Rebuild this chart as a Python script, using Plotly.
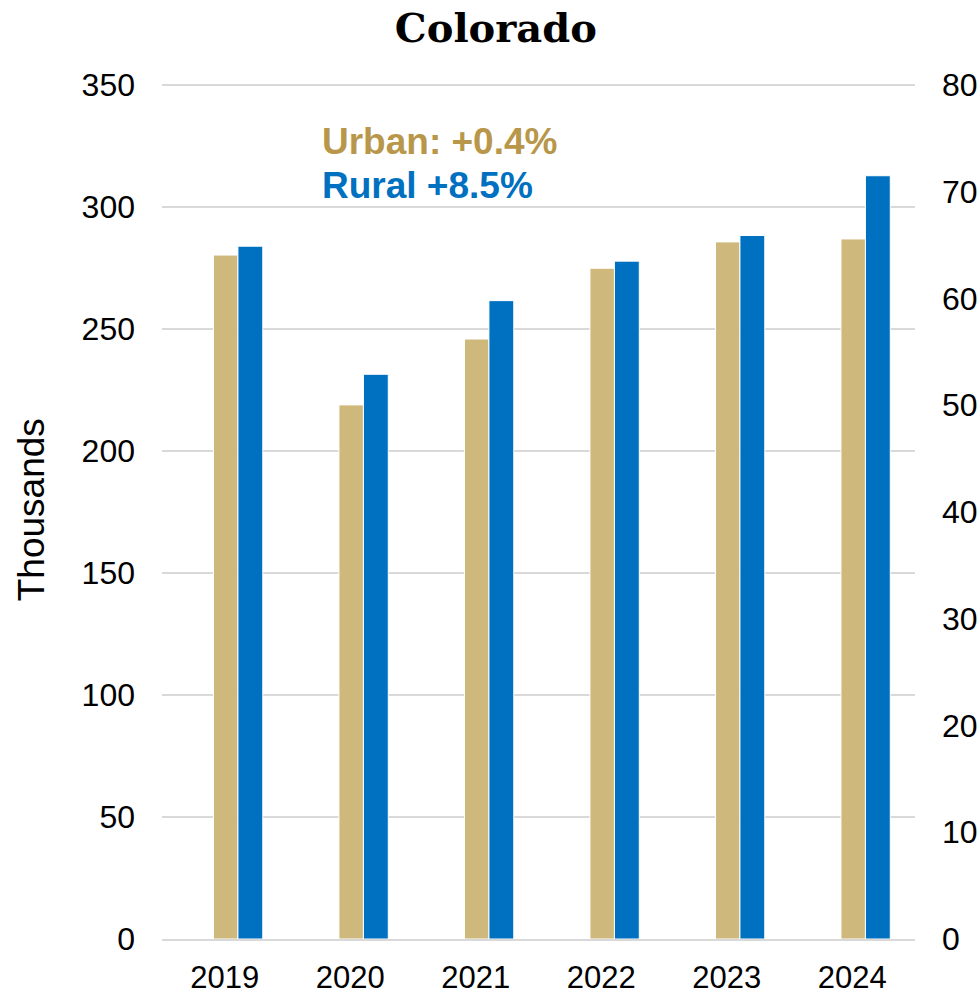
import plotly.graph_objects as go

years = ["2019", "2020", "2021", "2022", "2023", "2024"]
urban = [280.3, 218.9, 245.9, 274.9, 285.7, 286.9]   # thousands, left axis
rural = [64.9, 52.9, 59.8, 63.5, 65.9, 71.5]          # thousands, right axis
left_ticks = [0, 50, 100, 150, 200, 250, 300, 350]
right_ticks = [0, 10, 20, 30, 40, 50, 60, 70, 80]
title_text = "Colorado"
urban_note = "Urban: +0.4%"
rural_note = "Rural +8.5%"

GOLD = "#CFB87C"
GOLD_TXT = "#B8974B"
BLUE = "#0070C0"
GRID = "#D9D9D9"
FONT = "Liberation Sans, Arial, sans-serif"

fig = go.Figure()
fig.add_trace(go.Bar(x=years, y=urban, name="Urban", marker=dict(color=GOLD, line=dict(color="white", width=1)),
                     offset=-0.09, width=0.195, yaxis="y", showlegend=False))
fig.add_trace(go.Bar(x=years, y=rural, name="Rural", marker=dict(color=BLUE, line=dict(color="white", width=1)),
                     offset=0.105, width=0.198, yaxis="y2", showlegend=False))

fig.update_layout(
    width=980, height=994,
    margin=dict(l=162, r=65, t=83, b=55, autoexpand=False),
    paper_bgcolor="white", plot_bgcolor="white",
    font=dict(family=FONT, color="black", size=31),
    title=dict(text="<b>" + title_text + "</b>", x=0.506, xref="container", xanchor="center",
               y=0.972, yref="container", yanchor="middle",
               font=dict(family="DejaVu Serif, serif", size=40, color="black")),
    barmode="overlay",
    xaxis=dict(type="category", range=[-0.5, 5.5], showgrid=False, showline=True, linecolor=GRID,
               linewidth=1.5, ticks="", ticklabelstandoff=10, tickfont=dict(size=31), automargin=False),
    yaxis=dict(range=[0, 350.82], tickvals=left_ticks, showgrid=True, gridcolor=GRID, gridwidth=1.5,
               zeroline=False, showline=False, ticks="", ticklabelstandoff=26, tickfont=dict(size=32),
               automargin=False),
    yaxis2=dict(range=[0, 80.1874], tickvals=right_ticks, overlaying="y", side="right", showgrid=False,
                zeroline=False, showline=False, ticks="", ticklabelstandoff=26, tickfont=dict(size=32),
                automargin=False),
    annotations=[
        dict(text="Thousands", textangle=-90, xref="paper", yref="paper", x=-0.174, y=0.502,
             xanchor="center", yanchor="middle", showarrow=False, font=dict(size=37, family=FONT)),
        dict(text="<b>" + urban_note + "</b>", xref="paper", yref="paper", x=0.2095, y=0.932,
             xanchor="left", yanchor="middle", showarrow=False, font=dict(size=37, color=GOLD_TXT, family=FONT)),
        dict(text="<b>" + rural_note + "</b>", xref="paper", yref="paper", x=0.2095, y=0.8805,
             xanchor="left", yanchor="middle", showarrow=False, font=dict(size=37, color=BLUE, family=FONT)),
    ],
)

fig.write_html("out.html", config={"displayModeBar": False},
               post_script="document.body.style.margin='0';document.body.style.overflow='hidden';")
